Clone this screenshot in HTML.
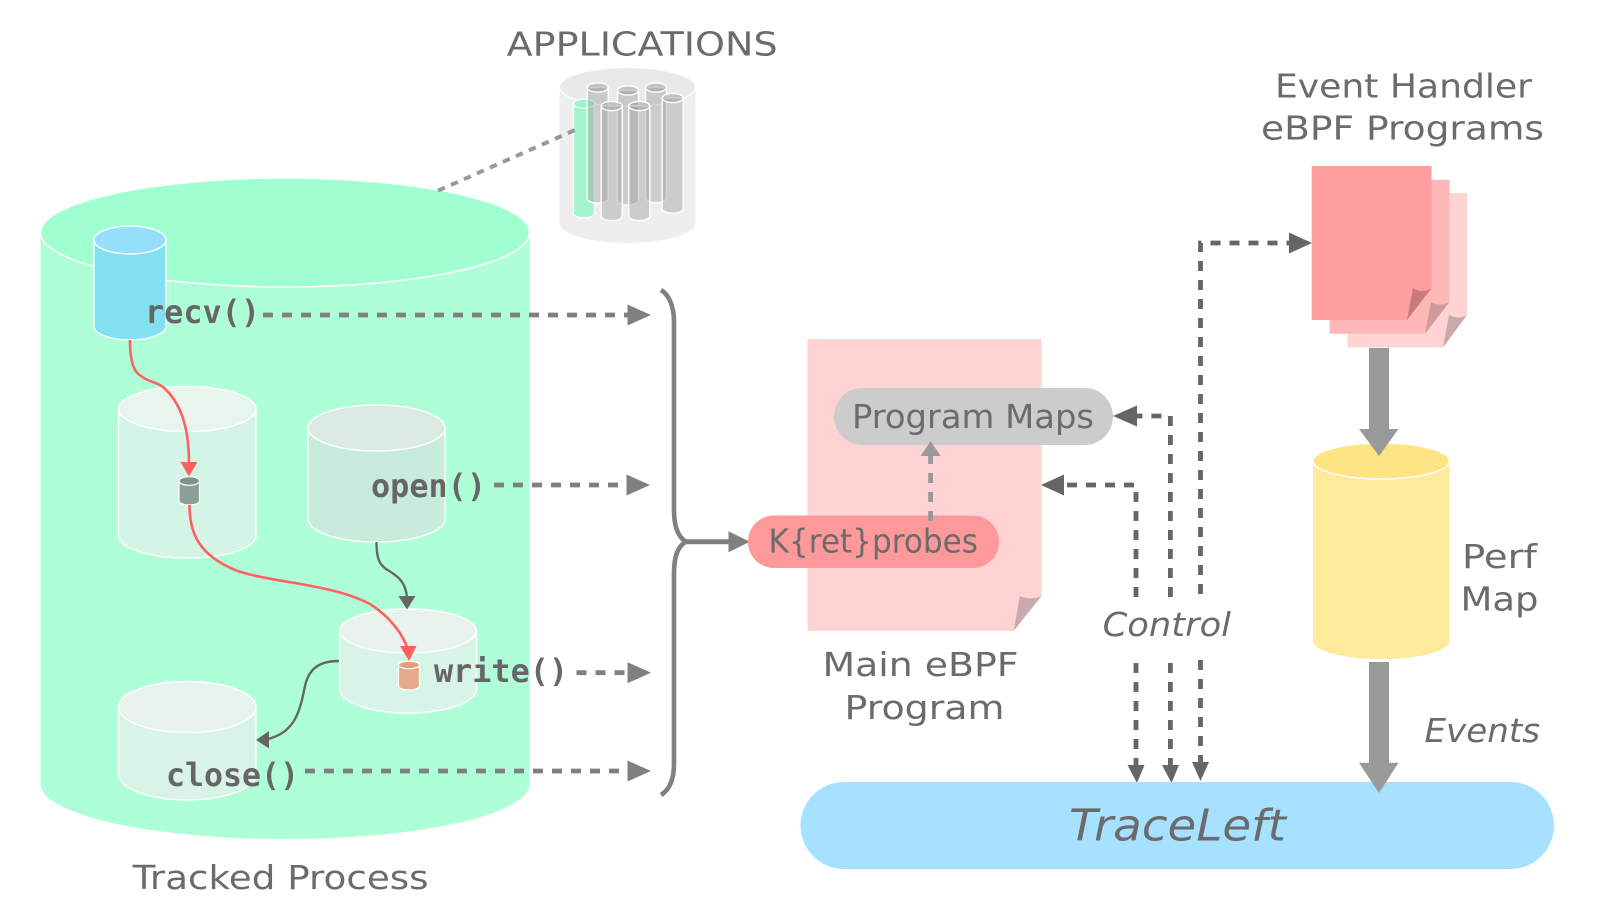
<!DOCTYPE html>
<html>
<head>
<meta charset="utf-8">
<style>
html,body{margin:0;padding:0;background:#fff;width:1600px;height:914px;overflow:hidden}
svg{display:block}
.t{font-family:"DejaVu Sans","Liberation Sans",sans-serif;font-size:33px;fill:#6b6b6b}
.i{font-style:italic}
.m{font-family:"DejaVu Sans Mono","Liberation Mono",monospace;font-weight:bold;font-size:32px;fill:#666}
.tb{fill:#999;fill-opacity:.4;stroke:#fff;stroke-width:1.4}
.tt{fill:#999;fill-opacity:.5;stroke:#fff;stroke-width:1.4}
</style>
</head>
<body>
<svg width="1600" height="914" viewBox="0 0 1600 914" xmlns="http://www.w3.org/2000/svg">
<rect width="1600" height="914" fill="#fff"/>

<!-- Big process cylinder -->
<path d="M40.5 232.5V784A244.500 55 0 0 0 529.500 784V232.5Z" fill="#aeffd8"/>
<ellipse cx="285" cy="232.5" rx="244.500" ry="54.5" fill="#a0ffd0" stroke="#fff" stroke-width="1.5"/>

<!-- Applications cylinder -->
<path d="M559.500 87V223A68 20 0 0 0 695.500 223V87Z" fill="#eeeeee"/>
<ellipse cx="627.500" cy="87" rx="68" ry="19.5" fill="#e9e9e9" stroke="#fff" stroke-width="1.2"/>

<!-- tubes -->
<path d="M573.5 103.7V213.5A10.5 4.5 0 0 0 594.5 213.5V103.7Z" fill="#a4f4cb" stroke="#fff" stroke-width="1.4"/>
<ellipse cx="584" cy="103.7" rx="10.5" ry="4.6" fill="#9cf5c8" stroke="#fff" stroke-width="1.2"/>
<path class="tb" d="M587.2 87.5V198.5A10.5 4.6 0 0 0 608.2 198.5V87.5Z"/><ellipse class="tt" cx="597.7" cy="87.5" rx="10.5" ry="4.6"/>
<path class="tb" d="M617.5 90.5V200.5A10.5 4.6 0 0 0 638.5 200.5V90.5Z"/><ellipse class="tt" cx="628" cy="90.5" rx="10.5" ry="4.6"/>
<path class="tb" d="M645.5 87.5V198A10.5 4.6 0 0 0 666.5 198V87.5Z"/><ellipse class="tt" cx="656" cy="87.5" rx="10.5" ry="4.6"/>
<path class="tb" d="M662.2 98V208.7A10.5 4.6 0 0 0 683.2 208.7V98Z"/><ellipse class="tt" cx="672.7" cy="98" rx="10.5" ry="4.6"/>
<path class="tb" d="M601.2 106V216A10.5 4.6 0 0 0 622.2 216V106Z"/><ellipse class="tt" cx="611.7" cy="106" rx="10.5" ry="4.6"/>
<path class="tb" d="M628.8 106V216A10.5 4.6 0 0 0 649.8 216V106Z"/><ellipse class="tt" cx="639.3" cy="106" rx="10.5" ry="4.6"/>

<!-- zoom dashed line -->
<line x1="438" y1="190.7" x2="576.5" y2="129.3" stroke="#999" stroke-width="4" stroke-dasharray="7.5 6.7"/>

<!-- Blue cylinder -->
<path d="M94 240V326A36 14 0 0 0 166 326V240Z" fill="#80def1" fill-opacity=".94" stroke="#fff" stroke-width="1.4"/>
<ellipse cx="130" cy="240" rx="36" ry="14" fill="#96dffa" stroke="#fff" stroke-width="1.4"/>

<!-- Cylinder A -->
<path d="M118.500 409V537A69 23 0 0 0 256 537V409Z" fill="#d4f5e5" stroke="#fff" stroke-width="1.4"/>
<ellipse cx="187.250" cy="409" rx="68.750" ry="22.500" fill="#e7f5ec" stroke="#fff" stroke-width="1.4"/>
<!-- Cylinder B -->
<path d="M308 428V519A68.5 23 0 0 0 445 519V428Z" fill="#c8ecdb" stroke="#fff" stroke-width="1.4"/>
<ellipse cx="376.5" cy="428" rx="68.5" ry="23" fill="#dcebe2" stroke="#fff" stroke-width="1.4"/>
<!-- Cylinder C -->
<path d="M339.5 631V689A68.5 24 0 0 0 476.5 689V631Z" fill="#d8f4e6" stroke="#fff" stroke-width="1.4"/>
<ellipse cx="408" cy="631" rx="68.5" ry="22" fill="#e9f3ed" stroke="#fff" stroke-width="1.4"/>
<!-- Cylinder D -->
<path d="M118.500 707V774A68.750 26 0 0 0 256 774V707Z" fill="#d8f4e6" stroke="#fff" stroke-width="1.4"/>
<ellipse cx="187.250" cy="707" rx="68.750" ry="25.5" fill="#e9f3ed" stroke="#fff" stroke-width="1.4"/>

<!-- small cyl gray -->
<path d="M179 481V501A10.250 4 0 0 0 199.500 501V481Z" fill="#8c9f94" stroke="#fff" stroke-width="1.2"/>
<ellipse cx="189.250" cy="481" rx="10.250" ry="4.3" fill="#7f9288" stroke="#fff" stroke-width="1.2"/>
<!-- small cyl orange -->
<path d="M398.500 665V686A10.450 4 0 0 0 419.400 686V665Z" fill="#e7a98d" stroke="#fff" stroke-width="1.2"/>
<ellipse cx="408.950" cy="665" rx="10.450" ry="3.8" fill="#ec9c7c" stroke="#fff" stroke-width="1.2"/>

<!-- Red curves -->
<g fill="none" stroke="#ff6060" stroke-width="2.6">
<path d="M130 340C130 362 134 372 141 376C150 383 155 381 163 387C180 402 189 425 189 464"/>
<path d="M189.500 505C189.500 535 200 555 235 570C270 583 330 583 370 604C395 620 405 640 408 650"/>
</g>
<polygon points="180.500,462 197.500,462 189,476.500" fill="#ff6060"/>
<polygon points="400,646 416.500,646 409,661" fill="#ff6060"/>

<!-- Dark curves -->
<g fill="none" stroke="#666" stroke-width="2.4">
<path d="M376.5 542C376.5 558 379 564 386 569C398 576 406 582 407 598"/>
<path d="M339 661C320 661 309 668 305 686C300 710 296 732 268 739"/>
</g>
<polygon points="398.500,596 415.500,596 407,609.500" fill="#666"/>
<polygon points="269,731 269,748.500 256,740" fill="#666"/>

<!-- Dashed arrows to brace -->
<g stroke="#808080" stroke-width="4.800" stroke-dasharray="10 9" fill="none">
<line x1="263" y1="315" x2="628" y2="315"/>
<line x1="494" y1="485" x2="627" y2="485"/>
<line x1="576.5" y1="672.7" x2="628" y2="672.7"/>
<line x1="305" y1="771" x2="628" y2="771"/>
</g>
<g fill="#808080">
<polygon points="627.500,304.500 651,315 627.500,325.500"/>
<polygon points="626.500,474.500 650,485 626.500,495.500"/>
<polygon points="627.500,662.200 651,672.700 627.500,683.200"/>
<polygon points="627.500,760.500 651,771 627.500,781.500"/>
</g>

<!-- Brace -->
<path d="M661 290C669 295 674 306 674 322V510C674 527 678 537 686 541.7C678 546 674 556 674 573V764C674 780 669 790 661 795" fill="none" stroke="#808080" stroke-width="4.6"/>
<line x1="686" y1="541.7" x2="730" y2="541.7" stroke="#808080" stroke-width="5"/>
<polygon points="728.5,531.2 750,541.7 728.5,552.2" fill="#808080"/>

<!-- Main doc -->
<path d="M807.5 339H1041.500V596L1013.500 631H807.5Z" fill="#ffd3d3"/>
<path d="M1013.500 631L1020 596Q1030 601 1041.500 596Z" fill="#c9a9a9"/>

<!-- Program maps pill -->
<rect x="834" y="388" width="279" height="57" rx="28.5" ry="28.5" fill="#cccccc"/>
<!-- Kprobes pill -->
<rect x="748" y="515.5" width="251" height="52.5" rx="26" ry="26" fill="#ff9999"/>
<!-- arrow k->maps -->
<line x1="930.6" y1="521" x2="930.6" y2="456" stroke="#999" stroke-width="4.8" stroke-dasharray="10 9"/>
<polygon points="920.6,456 940.6,456 930.6,441" fill="#999"/>

<!-- Control arrows -->
<g fill="none" stroke="#666" stroke-width="4.800" stroke-dasharray="10 9">
<path d="M1136 597V485H1066"/>
<path d="M1170.4 597V416H1137"/>
<path d="M1200.5 594V243H1290"/>
<line x1="1136" y1="663" x2="1136" y2="766"/>
<line x1="1170.4" y1="663" x2="1170.4" y2="766"/>
<line x1="1200.5" y1="660" x2="1200.5" y2="763"/>
</g>
<g fill="#666">
<polygon points="1064,474.500 1064,495.500 1041,485"/>
<polygon points="1137,405.500 1137,426.500 1113,416"/>
<polygon points="1289,232.500 1289,253.500 1312,243"/>
<polygon points="1127.500,765 1144.500,765 1137,783"/>
<polygon points="1162,765 1179,765 1171.500,783"/>
<polygon points="1192,762 1209,762 1200.500,781"/>
</g>

<!-- Event handler docs -->
<path d="M1347.5 193H1467V315L1443 347.5H1347.5Z" fill="#ffd3d3"/>
<path d="M1443 347.5L1449 315Q1458 320 1467 315Z" fill="#cba9a9"/>
<path d="M1329.6 179.7H1449.5V302L1425 333.7H1329.6Z" fill="#ffb8b8"/>
<path d="M1425 333.7L1431 302Q1440 307 1449.5 302Z" fill="#d09b9b"/>
<path d="M1311.7 166H1431.6V288L1407 320H1311.7Z" fill="#ff9e9e"/>
<path d="M1407 320L1413 288Q1422 294 1431.6 288Z" fill="#c97b7b"/>

<!-- Perf cylinder -->
<path d="M1313 461V641A68.250 18 0 0 0 1449.5 641V461Z" fill="#ffe99a"/>
<ellipse cx="1381.250" cy="461" rx="68.250" ry="18" fill="#ffe484" stroke="#fff" stroke-width="1.4"/>

<!-- TraceLeft -->
<rect x="800.500" y="782" width="753.500" height="87" rx="43.5" ry="43.5" fill="#a6e1ff"/>

<!-- Thick arrows -->
<g fill="#999">
<rect x="1369" y="348" width="20" height="82"/>
<polygon points="1359,429 1398.5,429 1379,456"/>
<rect x="1369" y="662" width="20" height="101"/>
<polygon points="1359,762.7 1398.5,762.7 1379,793"/>
</g>

<!-- Labels -->
<text class="t" x="506.6" y="55.7" textLength="271" lengthAdjust="spacingAndGlyphs">APPLICATIONS</text>
<text class="t" x="132.6" y="889" textLength="296" lengthAdjust="spacingAndGlyphs">Tracked Process</text>
<text class="t" x="1275" y="97.7" textLength="257" lengthAdjust="spacingAndGlyphs">Event Handler</text>
<text class="t" x="1261" y="139.5" textLength="283" lengthAdjust="spacingAndGlyphs">eBPF Programs</text>
<text class="t" x="822.500" y="676" textLength="196" lengthAdjust="spacingAndGlyphs">Main eBPF</text>
<text class="t" x="844.500" y="719" textLength="160" lengthAdjust="spacingAndGlyphs">Program</text>
<text class="t" x="852" y="428" textLength="242" lengthAdjust="spacingAndGlyphs">Program Maps</text>
<text class="t" x="768.500" y="552.7" textLength="209.500" lengthAdjust="spacingAndGlyphs">K{ret}probes</text>
<text class="t i" x="1102.600" y="636" textLength="128.400" lengthAdjust="spacingAndGlyphs">Control</text>
<text class="t" x="1462" y="568" textLength="75" lengthAdjust="spacingAndGlyphs">Perf</text>
<text class="t" x="1460.500" y="610.7" textLength="78" lengthAdjust="spacingAndGlyphs">Map</text>
<text class="t i" x="1424.500" y="742" textLength="115.500" lengthAdjust="spacingAndGlyphs">Events</text>
<text class="t i" x="1069" y="840.7" style="font-size:44px" textLength="217" lengthAdjust="spacingAndGlyphs">TraceLeft</text>

<text class="m" x="145" y="323" textLength="115" lengthAdjust="spacingAndGlyphs">recv()</text>
<text class="m" x="371" y="497" textLength="115" lengthAdjust="spacingAndGlyphs">open()</text>
<text class="m" x="434" y="682" textLength="134" lengthAdjust="spacingAndGlyphs">write()</text>
<text class="m" x="166" y="786" textLength="133" lengthAdjust="spacingAndGlyphs">close()</text>
</svg>
</body>
</html>
